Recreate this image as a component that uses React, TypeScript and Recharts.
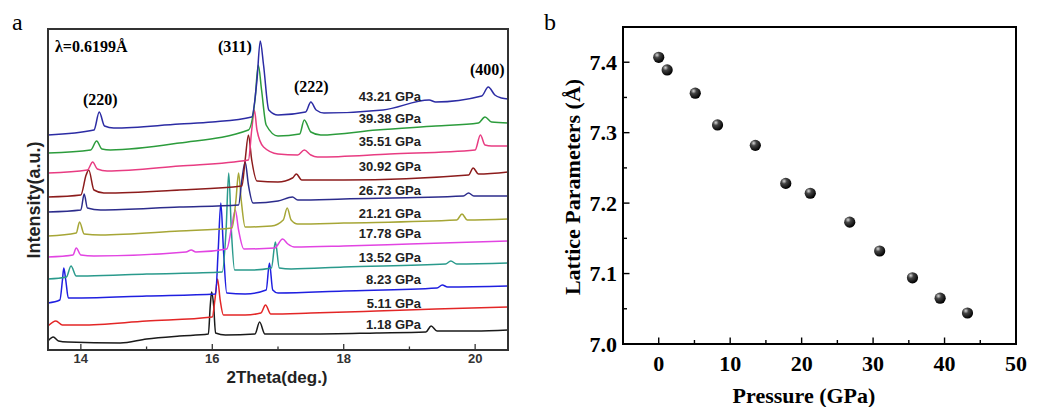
import React from "react";
import {
  ComposedChart,
  Line,
  XAxis,
  YAxis,
  ScatterChart,
  Scatter,
} from "recharts";

type Pt = [number, number];

// panel a: XRD patterns, intensity read in stacked (offset) units
const p118: Pt[] = [[13.5,9],[13.58,13],[13.66,9],[13.8,8],[14.6,7],[15.0,11],[15.5,14],[15.94,16],[15.97,45],[15.99,58],[16.02,45],[16.05,17],[16.2,15],[16.65,16],[16.72,28],[16.8,16],[17.5,16],[18.5,17],[19.25,18],[19.33,24],[19.42,19],[20.0,19],[20.5,20]];
const p511: Pt[] = [[13.5,24],[13.62,29],[13.72,25],[14,25],[15,29],[16.0,33],[16.04,50],[16.08,71],[16.12,50],[16.17,35],[16.5,35],[16.74,37],[16.81,45],[16.89,36],[17.5,37],[18.5,39],[19.4,41],[20.5,43]];
const p823: Pt[] = [[13.5,47],[13.68,50],[13.72,70],[13.74,82],[13.77,70],[13.81,52],[13.95,52],[15,54],[16.05,56],[16.09,100],[16.13,147],[16.17,100],[16.22,57],[16.5,56],[16.82,60],[16.87,87],[16.92,60],[17.0,57],[18,59],[19.42,62],[19.5,65],[19.58,63],[20.5,64]];
const p1352: Pt[] = [[13.5,71],[13.78,73],[13.85,84],[13.93,74],[14.1,74],[15,76],[16.15,78],[16.21,120],[16.25,177],[16.29,120],[16.34,80],[16.6,80],[16.9,82],[16.96,108],[17.02,82],[17.2,81],[18,83],[19.55,86],[19.63,89],[19.72,86],[20.5,87]];
const p1778: Pt[] = [[13.5,93],[13.88,95],[13.93,102],[14.0,95],[14.2,94],[15.6,98],[15.68,100],[15.75,98],[16.22,101],[16.3,125],[16.35,140],[16.4,120],[16.48,101],[16.95,102],[17.07,111],[17.15,106],[17.25,103],[18,104],[19,106],[20.5,109]];
const p2121: Pt[] = [[13.5,114],[13.93,117],[13.98,128],[14.05,116],[14.3,115],[15.5,119],[16.3,122],[16.36,150],[16.4,177],[16.44,150],[16.5,123],[16.9,124],[17.08,130],[17.14,142],[17.2,130],[17.3,126],[18,127],[19.72,130],[19.8,136],[19.88,130],[20.5,131]];
const p2673: Pt[] = [[13.5,138],[14.0,140],[14.05,156],[14.1,142],[14.3,140],[15.5,143],[16.4,145],[16.45,170],[16.5,188],[16.55,165],[16.62,147],[17.0,149],[17.22,153],[17.3,150],[18,151],[19.82,154],[19.9,157],[19.98,154],[20.5,154]];
const p3092: Pt[] = [[13.5,153],[14.0,155],[14.08,175],[14.12,180],[14.2,160],[14.35,157],[15.5,160],[16.45,164],[16.5,190],[16.55,215],[16.6,190],[16.68,169],[17.0,168],[17.22,172],[17.28,176],[17.36,170],[18,170],[19.9,175],[19.97,182],[20.05,176],[20.5,178]];
const p3551: Pt[] = [[13.5,177],[14.1,180],[14.18,188],[14.25,181],[14.4,179],[15.5,184],[16.55,190],[16.6,220],[16.64,240],[16.68,220],[16.78,203],[17.0,196],[17.3,195],[17.4,200],[17.5,195],[17.6,193],[18.7,196],[20.0,200],[20.08,215],[20.15,205],[20.25,204],[20.5,204]];
const p3938: Pt[] = [[13.5,197],[14.15,200],[14.24,209],[14.32,201],[14.45,200],[15.5,207],[16.55,220],[16.65,250],[16.7,285],[16.75,260],[16.82,225],[17.0,214],[17.33,216],[17.4,230],[17.5,218],[17.65,215],[18.5,220],[19.4,224],[20.05,227],[20.15,233],[20.25,228],[20.5,227]];
const p4321: Pt[] = [[13.5,215],[14.2,220],[14.28,238],[14.36,224],[14.5,222],[15.5,226],[16.0,228],[16.6,233],[16.68,270],[16.73,309],[16.78,285],[16.86,240],[17.0,235],[17.42,238],[17.5,248],[17.58,240],[17.7,237],[18.6,240],[19.3,250],[19.4,248],[20.1,254],[20.2,263],[20.3,255],[20.4,252],[20.5,251]];

const pressureLabels = ["1.18 GPa","5.11 GPa","8.23 GPa","13.52 GPa","17.78 GPa","21.21 GPa","26.73 GPa","30.92 GPa","35.51 GPa","39.38 GPa","43.21 GPa"];
const thetaTicks = [14, 15, 16, 17, 18, 19, 20];

// panel b: lattice parameter vs pressure
const pressure = [0, 1.18, 5.11, 8.23, 13.52, 17.78, 21.21, 26.73, 30.92, 35.51, 39.38, 43.21];
const lattice = [7.407, 7.389, 7.356, 7.311, 7.282, 7.228, 7.214, 7.173, 7.132, 7.094, 7.065, 7.044];
const pTicks = [0, 5, 10, 15, 20, 25, 30, 35, 40, 45, 50];
const aTicks = [7.0, 7.05, 7.1, 7.15, 7.2, 7.25, 7.3, 7.35, 7.4];

const traces = [p118, p511, p823, p1352, p1778, p2121, p2673, p3092, p3551, p3938, p4321];
const colors = ["#1a1a1a","#e32626","#1f1fe0","#2a9a8c","#e244e2","#a6a636","#2c2c8c","#8c1c1c","#e83c82","#2c9c3c","#2c2ca4"];
const labelTops = [324, 303, 279, 257, 233, 213, 190, 166, 141, 118, 96];

const sans = "'Liberation Sans', Arial, sans-serif";
const serif = "'Liberation Serif', 'Times New Roman', serif";

const frameA = { stroke: "#333", strokeWidth: 1.5 };
const frameB = { stroke: "#000", strokeWidth: 1.5 };

// tick marks point into the plot
const ThetaTick = (props: any) => {
  const { x, y, payload } = props;
  const major = payload.value % 2 === 0;
  return (
    <g>
      <line x1={x} y1={y} x2={x} y2={y - (major ? 6 : 3.5)} stroke="#333" strokeWidth={1.3} />
      {major && (
        <text x={x} y={y + 13} textAnchor="middle" fontFamily={sans} fontWeight="bold" fontSize={13} fill="#333">
          {payload.value}
        </text>
      )}
    </g>
  );
};

const PTick = (props: any) => {
  const { x, y, payload } = props;
  const major = payload.value % 10 === 0;
  return (
    <g>
      <line x1={x} y1={y} x2={x} y2={y - (major ? 6.5 : 4)} stroke="#000" strokeWidth={1.4} />
      {major && (
        <text x={x} y={y + 27} textAnchor="middle" fontFamily={serif} fontWeight="bold" fontSize={22} fill="#000">
          {payload.value}
        </text>
      )}
    </g>
  );
};

const ATick = (props: any) => {
  const { x, y, payload } = props;
  const major = Math.round(payload.value * 100) % 10 === 0;
  return (
    <g>
      <line x1={x} y1={y} x2={x + (major ? 6.5 : 4)} y2={y} stroke="#000" strokeWidth={1.4} />
      {major && (
        <text x={x - 6} y={y + 7.5} textAnchor="end" fontFamily={serif} fontWeight="bold" fontSize={22} fill="#000">
          {payload.value.toFixed(1)}
        </text>
      )}
    </g>
  );
};

const Ball = (props: any) => {
  const { cx, cy } = props;
  return (
    <g>
      <defs>
        <radialGradient id="ball" cx="0.35" cy="0.3" r="0.7">
          <stop offset="0" stopColor="#d8d8d8" />
          <stop offset="0.35" stopColor="#444" />
          <stop offset="1" stopColor="#000" />
        </radialGradient>
      </defs>
      <circle cx={cx} cy={cy} r={5.6} fill="url(#ball)" />
    </g>
  );
};

const abs = (left: number, top: number, extra: React.CSSProperties = {}): React.CSSProperties => ({
  position: "absolute",
  left,
  top,
  whiteSpace: "nowrap",
  lineHeight: 1,
  ...extra,
});

// a plot box drawn from four thin filled strips
const Frame = ({ l, t, r, b, color }: { l: number; t: number; r: number; b: number; color: string }) => (
  <>
    <div style={{ position: "absolute", left: l - 1, top: t - 1, width: r - l + 2, height: 2, background: color }} />
    <div style={{ position: "absolute", left: l - 1, top: b - 1, width: r - l + 2, height: 2, background: color }} />
    <div style={{ position: "absolute", left: l - 1, top: t - 1, width: 2, height: b - t + 2, background: color }} />
    <div style={{ position: "absolute", left: r - 1, top: t - 1, width: 2, height: b - t + 2, background: color }} />
  </>
);

export default function App() {
  const latticeData = pressure.map((p, i) => ({ p, a: lattice[i] }));
  return (
    <div style={{ position: "absolute", left: 0, top: 0, width: 1041, height: 407, background: "#fff" }}>
      <div style={{ position: "absolute", left: 0, top: 0 }}>
        <ComposedChart width={530} height={407} margin={{ top: 28, right: 21, bottom: 27, left: 47 }}>
          <XAxis
            type="number"
            dataKey="x"
            domain={[13.5, 20.5]}
            ticks={thetaTicks}
            interval={0}
            axisLine={frameA}
            tickLine={false}
            tickSize={0}
            tickMargin={0}
            height={30}
            tick={ThetaTick}
            allowDataOverflow
          />
          <XAxis xAxisId="top" orientation="top" type="number" dataKey="x" domain={[13.5, 20.5]} height={1} tick={false} tickLine={false} axisLine={frameA} />
          <YAxis type="number" domain={[0, 321]} width={1} tick={false} tickLine={false} axisLine={frameA} allowDataOverflow />
          <YAxis yAxisId="right" orientation="right" type="number" domain={[0, 321]} width={1} tick={false} tickLine={false} axisLine={frameA} />
          {traces.map((t, i) => (
            <Line
              key={pressureLabels[i]}
              data={t.map(([x, y]) => ({ x, y }))}
              dataKey="y"
              type="monotone"
              stroke={colors[i]}
              strokeWidth={1.5}
              dot={false}
              activeDot={false}
              isAnimationActive={false}
            />
          ))}
        </ComposedChart>
      </div>
      <div style={{ position: "absolute", left: 530, top: 0 }}>
        <ScatterChart width={511} height={407} margin={{ top: 26, right: 24, bottom: 33, left: 0 }}>
          <XAxis
            type="number"
            dataKey="p"
            domain={[-5, 50]}
            ticks={pTicks}
            interval={0}
            axisLine={frameB}
            tickLine={false}
            tickSize={0}
            tickMargin={0}
            height={30}
            tick={PTick}
          />
          <XAxis xAxisId="top" orientation="top" type="number" dataKey="p" domain={[-5, 50]} height={1} tick={false} tickLine={false} axisLine={frameB} />
          <YAxis
            type="number"
            dataKey="a"
            domain={[7.0, 7.45]}
            ticks={aTicks}
            interval={0}
            axisLine={frameB}
            tickLine={false}
            tickSize={0}
            tickMargin={0}
            width={93}
            tick={ATick}
          />
          <YAxis yAxisId="right" orientation="right" type="number" dataKey="a" domain={[7.0, 7.45]} width={1} tick={false} tickLine={false} axisLine={frameB} />
          <Scatter data={latticeData} shape={Ball} isAnimationActive={false} />
        </ScatterChart>
      </div>

      <Frame l={48} t={29} r={508} b={350} color="#333" />
      <Frame l={623} t={27} r={1016} b={344} color="#000" />

      {/* panel a text */}
      <div style={abs(12, 10, { fontFamily: serif, fontSize: 24 })}>a</div>
      <div style={abs(55, 39, { fontFamily: serif, fontWeight: "bold", fontSize: 16 })}>λ=0.6199Å</div>
      <div style={abs(218, 39, { fontFamily: serif, fontWeight: "bold", fontSize: 16 })}>(311)</div>
      <div style={abs(83, 92, { fontFamily: serif, fontWeight: "bold", fontSize: 16 })}>(220)</div>
      <div style={abs(294, 79, { fontFamily: serif, fontWeight: "bold", fontSize: 16 })}>(222)</div>
      <div style={abs(470, 62, { fontFamily: serif, fontWeight: "bold", fontSize: 16 })}>(400)</div>
      {pressureLabels.map((l, i) => (
        <div key={l} style={abs(421, labelTops[i], { transform: "translate(-100%, -50%)", fontFamily: sans, fontWeight: "bold", fontSize: 13, color: "#222" })}>
          {l}
        </div>
      ))}
      <div style={abs(277, 377, { transform: "translate(-50%, -50%)", fontFamily: sans, fontWeight: "bold", fontSize: 17, color: "#222" })}>
        2Theta(deg.)
      </div>
      <div style={abs(34, 200, { transform: "translate(-50%, -50%) rotate(-90deg)", fontFamily: sans, fontWeight: "bold", fontSize: 18, color: "#222" })}>
        Intensity(a.u.)
      </div>

      {/* panel b text */}
      <div style={abs(544, 10, { fontFamily: serif, fontSize: 24 })}>b</div>
      <div style={abs(804, 396, { transform: "translate(-50%, -50%)", fontFamily: serif, fontWeight: "bold", fontSize: 22 })}>
        Pressure (GPa)
      </div>
      <div style={abs(573, 187, { transform: "translate(-50%, -50%) rotate(-90deg)", fontFamily: serif, fontWeight: "bold", fontSize: 22 })}>
        Lattice Parameters (Å)
      </div>
    </div>
  );
}
